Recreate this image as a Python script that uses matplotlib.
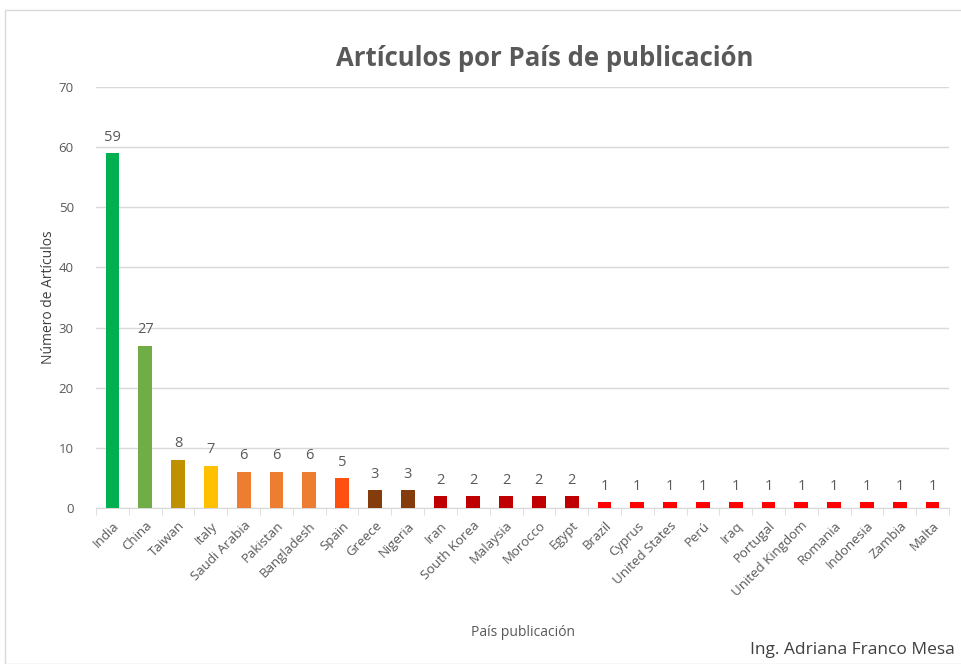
import matplotlib.pyplot as plt
from matplotlib.patches import Rectangle

countries = ['India', 'China', 'Taiwan', 'Italy', 'Saudi Arabia', 'Pakistan', 'Bangladesh',
             'Spain', 'Greece', 'Nigeria', 'Iran', 'South Korea', 'Malaysia', 'Morocco',
             'Egypt', 'Brazil', 'Cyprus', 'United States', 'Perú', 'Iraq', 'Portugal',
             'United Kingdom', 'Romania', 'Indonesia', 'Zambia', 'Malta']
articles = [59, 27, 8, 7, 6, 6, 6, 5, 3, 3, 2, 2, 2, 2, 2, 1, 1, 1, 1, 1, 1, 1, 1, 1, 1, 1]
colors = ['#00B050', '#70AD47', '#BF9000', '#FFC000', '#ED7D31', '#ED7D31', '#ED7D31',
          '#FF5010', '#843C0C', '#843C0C'] + ['#C00000'] * 5 + ['#FF0000'] * 11
yticks = [0, 10, 20, 30, 40, 50, 60, 70]

plt.rcParams['font.family'] = ['Open Sans', 'DejaVu Sans']
grey = '#595959'

fig = plt.figure(figsize=(9.61, 6.64), dpi=100)
fig.patches.append(Rectangle((5 / 961, 0), 1, 1 - 10 / 664, transform=fig.transFigure,
                             fill=False, edgecolor='#D9D9D9', linewidth=1))
ax = fig.add_axes([96 / 961, 156 / 664, 853 / 961, 421 / 664])

x = range(len(countries))
bars = ax.bar(x, articles, width=0.42, color=colors, zorder=3)
for xi, v in zip(x, articles):
    ax.text(xi, v + 1.4, str(v), ha='center', va='bottom', fontsize=10.5, color=grey)

ax.set_xlim(-0.5, len(countries) - 0.5)
ax.set_ylim(0, 70)
ax.set_yticks(yticks)
ax.yaxis.grid(True, color='#D9D9D9', linewidth=1)
ax.set_axisbelow(True)
for s in ['top', 'right', 'left']:
    ax.spines[s].set_visible(False)
ax.spines['bottom'].set_color('#D9D9D9')
ax.tick_params(axis='y', length=0, labelsize=9.5, labelcolor=grey, pad=16)
ax.set_xticks([i - 0.5 for i in range(len(countries) + 1)], minor=True)
ax.tick_params(axis='x', which='minor', length=5, color='#D9D9D9')
ax.set_xticks(list(x))
ax.set_xticklabels(countries, rotation=45, ha='right', rotation_mode='anchor')
ax.tick_params(axis='x', which='major', length=0, labelsize=9.5, labelcolor=grey, pad=8)

ax.set_ylabel('Número de Artículos', fontsize=10, color='#404040', labelpad=2)
fig.text(523 / 961, 1 - 633 / 664, 'País publicación', ha='center', va='center',
         fontsize=10, color=grey)
fig.text(545 / 961, 1 - 58 / 664, 'Artículos por País de publicación', ha='center',
         va='center', fontsize=18.5, fontweight='bold', color=grey)
fig.text(955 / 961, 1 - 650 / 664, 'Ing. Adriana Franco Mesa', ha='right', va='center',
         fontsize=12.5, color='#404040')

fig.savefig('out.png', dpi=100)
